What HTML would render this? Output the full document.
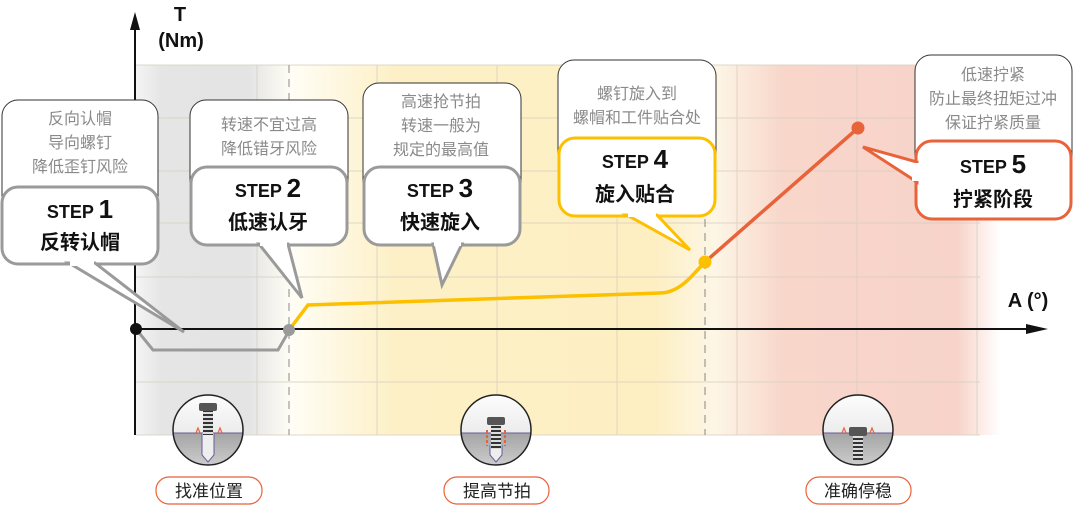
<!DOCTYPE html>
<html><head><meta charset="utf-8"><style>
html,body{margin:0;padding:0;background:#fff;}
svg{display:block;font-family:"Liberation Sans","Noto Sans CJK SC",sans-serif;}
.g{fill:#8a8a8a;font-size:16px;}
.s{fill:#111;font-size:18px;font-weight:bold;}
.n{fill:#111;font-size:26px;font-weight:bold;}
.t{fill:#111;font-size:20px;font-weight:bold;}
.l{fill:#222;font-size:17px;}
</style></head><body>
<svg width="1074" height="505" viewBox="0 0 1074 505">
<defs>
<linearGradient id="bg" x1="136" y1="0" x2="1000" y2="0" gradientUnits="userSpaceOnUse">
<stop offset="0" stop-color="#f4f4f4"/>
<stop offset="0.03" stop-color="#e5e5e5"/>
<stop offset="0.13" stop-color="#e4e4e4"/>
<stop offset="0.18" stop-color="#fffdf5"/>
<stop offset="0.3" stop-color="#fdf0c6"/>
<stop offset="0.6" stop-color="#fdefc2"/>
<stop offset="0.67" stop-color="#fdf6e6"/>
<stop offset="0.75" stop-color="#f8d6ca"/>
<stop offset="0.95" stop-color="#f7d3c9"/>
<stop offset="1" stop-color="#ffffff"/>
</linearGradient>
<linearGradient id="up" x1="0" y1="0" x2="0" y2="1"><stop offset="0" stop-color="#fff"/><stop offset="1" stop-color="#ececec"/></linearGradient>
<linearGradient id="dn" x1="0" y1="0" x2="0" y2="1"><stop offset="0" stop-color="#a4a4a4"/><stop offset="1" stop-color="#d6d6d6"/></linearGradient>
<pattern id="thr" width="4" height="4" patternUnits="userSpaceOnUse"><rect width="4" height="4" fill="#ddd"/><rect y="2" width="4" height="2" fill="#333"/></pattern>
</defs>
<rect x="136" y="65" width="864" height="370" fill="url(#bg)"/>
<g stroke="#d8cfc0" stroke-width="1" opacity="0.8">
<line x1="136" y1="65" x2="980" y2="65"/><line x1="136" y1="118" x2="980" y2="118"/><line x1="136" y1="171" x2="980" y2="171"/><line x1="136" y1="223" x2="980" y2="223"/><line x1="136" y1="277" x2="980" y2="277"/><line x1="136" y1="382" x2="980" y2="382"/><line x1="136" y1="435" x2="980" y2="435"/>
<line x1="257" y1="65" x2="257" y2="435"/><line x1="377" y1="65" x2="377" y2="435"/><line x1="497" y1="65" x2="497" y2="435"/><line x1="617" y1="65" x2="617" y2="435"/><line x1="737" y1="65" x2="737" y2="435"/><line x1="857" y1="65" x2="857" y2="435"/><line x1="977" y1="65" x2="977" y2="435"/>
</g>
<line x1="289" y1="65" x2="289" y2="435" stroke="#888" stroke-dasharray="8,6"/>
<line x1="705" y1="65" x2="705" y2="435" stroke="#888" stroke-dasharray="8,6"/>
<line x1="135" y1="25" x2="135" y2="435" stroke="#111" stroke-width="2"/>
<polygon points="135,12 130,30 140,30" fill="#111"/>
<line x1="136" y1="329" x2="1030" y2="329" stroke="#111" stroke-width="2"/>
<polygon points="1048,329 1026,324 1026,334" fill="#111"/>
<text x="180" y="21" class="t" text-anchor="middle" font-size="21">T</text>
<text x="181" y="47" class="t" text-anchor="middle" font-size="21">(Nm)</text>
<text x="1028" y="307" class="t" text-anchor="middle" font-size="21">A (°)</text>
<polyline points="136,329 153,350 278,350 289,331" fill="none" stroke="#9a9a9a" stroke-width="3"/>
<path d="M289,330 L308,305 L660,293 Q675,293 690,278 L705,262" fill="none" stroke="#fcc000" stroke-width="3.5"/>
<line x1="705" y1="262" x2="858" y2="128" stroke="#e8623a" stroke-width="3.5"/>
<circle cx="136" cy="329" r="6" fill="#111"/>
<circle cx="289" cy="330" r="6" fill="#9a9a9a"/>
<circle cx="705" cy="262" r="6.5" fill="#fcc000"/>
<circle cx="858" cy="128" r="6.5" fill="#e8623a"/>
<rect x="2" y="100" width="156" height="120" rx="16" fill="#fff" stroke="#333" stroke-width="1"/>
<text class="g" text-anchor="middle"><tspan x="80" y="124">反向认帽</tspan><tspan x="80" y="148">导向螺钉</tspan><tspan x="80" y="172">降低歪钉风险</tspan></text>
<rect x="2" y="187" width="156" height="77" rx="16" fill="#fff" stroke="#9a9a9a" stroke-width="3"/>
<polygon points="69,263 95,263 184,332" fill="#fff" stroke="#9a9a9a" stroke-width="3"/>
<rect x="70" y="258" width="24" height="8" fill="#fff"/>
<text x="80" y="218" text-anchor="middle"><tspan class="s">STEP </tspan><tspan class="n">1</tspan></text>
<text x="80" y="249" class="t" text-anchor="middle">反转认帽</text>
<rect x="190" y="100" width="158" height="120" rx="16" fill="#fff" stroke="#333" stroke-width="1"/>
<text class="g" text-anchor="middle"><tspan x="269" y="130">转速不宜过高</tspan><tspan x="269" y="154">降低错牙风险</tspan></text>
<rect x="191" y="167" width="156" height="78" rx="16" fill="#fff" stroke="#9a9a9a" stroke-width="3"/>
<polygon points="259,244 288,244 302,298" fill="#fff" stroke="#9a9a9a" stroke-width="3"/>
<rect x="260" y="238" width="27" height="8" fill="#fff"/>
<text x="268" y="197" text-anchor="middle"><tspan class="s">STEP </tspan><tspan class="n">2</tspan></text>
<text x="268" y="229" class="t" text-anchor="middle">低速认牙</text>
<rect x="363" y="83" width="158" height="130" rx="16" fill="#fff" stroke="#333" stroke-width="1"/>
<text class="g" text-anchor="middle"><tspan x="441" y="107">高速抢节拍</tspan><tspan x="441" y="131">转速一般为</tspan><tspan x="441" y="155">规定的最高值</tspan></text>
<rect x="364" y="167" width="156" height="78" rx="16" fill="#fff" stroke="#9a9a9a" stroke-width="3"/>
<polygon points="433,244 462,244 442,285" fill="#fff" stroke="#9a9a9a" stroke-width="3"/>
<rect x="434" y="238" width="27" height="8" fill="#fff"/>
<text x="440" y="197" text-anchor="middle"><tspan class="s">STEP </tspan><tspan class="n">3</tspan></text>
<text x="440" y="229" class="t" text-anchor="middle">快速旋入</text>
<rect x="558" y="60" width="158" height="110" rx="16" fill="#fff" stroke="#333" stroke-width="1"/>
<text class="g" text-anchor="middle"><tspan x="637" y="99">螺钉旋入到</tspan><tspan x="637" y="123">螺帽和工件贴合处</tspan></text>
<rect x="559" y="138" width="156" height="78" rx="16" fill="#fff" stroke="#fcc000" stroke-width="3"/>
<polygon points="627,215 657,215 690,250" fill="#fff" stroke="#fcc000" stroke-width="3"/>
<rect x="628" y="209" width="28" height="8" fill="#fff"/>
<text x="635" y="168" text-anchor="middle"><tspan class="s">STEP </tspan><tspan class="n">4</tspan></text>
<text x="635" y="201" class="t" text-anchor="middle">旋入贴合</text>
<rect x="915" y="55" width="157" height="120" rx="16" fill="#fff" stroke="#333" stroke-width="1"/>
<text class="g" text-anchor="middle"><tspan x="993" y="80">低速拧紧</tspan><tspan x="993" y="104">防止最终扭矩过冲</tspan><tspan x="993" y="128">保证拧紧质量</tspan></text>
<rect x="916" y="141" width="155" height="78" rx="16" fill="#fff" stroke="#e8623a" stroke-width="3"/>
<polygon points="917,162 917,182 863,147" fill="#fff" stroke="#e8623a" stroke-width="3"/>
<rect x="912" y="163" width="8" height="18" fill="#fff"/>
<text x="993" y="173" text-anchor="middle"><tspan class="s">STEP </tspan><tspan class="n">5</tspan></text>
<text x="993" y="206" class="t" text-anchor="middle">拧紧阶段</text>
<g>
<clipPath id="c1"><circle cx="208" cy="430" r="35"/></clipPath>
<g clip-path="url(#c1)"><rect x="170" y="390" width="80" height="43" fill="url(#up)"/><rect x="170" y="433" width="80" height="40" fill="url(#dn)"/></g>
<line x1="173" y1="433" x2="243" y2="433" stroke="#6a5a9a"/>
<path d="M202,433 V455 L208,462 L214,455 V433" fill="#eee" stroke="#6a5a9a"/>
<rect x="203" y="411" width="10" height="24" fill="url(#thr)"/>
<rect x="199" y="403" width="18" height="8" rx="2" fill="#555"/>
<path d="M196,433 l2,-5 l2,5 M218,433 l2,-5 l2,5" fill="none" stroke="#e8623a" stroke-width="1.2"/>
<circle cx="208" cy="430" r="35" fill="none" stroke="#222" stroke-width="1.5"/>
</g>
<g>
<clipPath id="c2"><circle cx="496" cy="430" r="35"/></clipPath>
<g clip-path="url(#c2)"><rect x="458" y="390" width="80" height="43" fill="url(#up)"/><rect x="458" y="433" width="80" height="40" fill="url(#dn)"/></g>
<line x1="461" y1="433" x2="531" y2="433" stroke="#6a5a9a"/>
<path d="M490,445 V455 L496,462 L502,455 V445" fill="#eee" stroke="#6a5a9a"/>
<rect x="491" y="425" width="10" height="24" fill="url(#thr)"/>
<rect x="487" y="417" width="18" height="8" rx="2" fill="#555"/>
<line x1="487" y1="430" x2="487" y2="446" stroke="#e8623a" stroke-width="2" stroke-dasharray="3,2"/>
<line x1="505" y1="430" x2="505" y2="446" stroke="#e8623a" stroke-width="2" stroke-dasharray="3,2"/>
<circle cx="496" cy="430" r="35" fill="none" stroke="#222" stroke-width="1.5"/>
</g>
<g>
<clipPath id="c3"><circle cx="858" cy="430" r="35"/></clipPath>
<g clip-path="url(#c3)"><rect x="820" y="390" width="80" height="43" fill="url(#up)"/><rect x="820" y="433" width="80" height="40" fill="url(#dn)"/></g>
<line x1="823" y1="433" x2="893" y2="433" stroke="#6a5a9a"/>
<rect x="853" y="436" width="10" height="24" fill="url(#thr)"/>
<rect x="849" y="427" width="18" height="9" rx="2" fill="#555"/>
<path d="M842,433 l2,-5 l2,5 M870,433 l2,-5 l2,5" fill="none" stroke="#e8623a" stroke-width="1.2"/>
<circle cx="858" cy="430" r="35" fill="none" stroke="#222" stroke-width="1.5"/>
</g>
<g fill="#fff" stroke="#e8623a" stroke-width="1.2">
<rect x="156" y="477" width="106" height="27" rx="13"/>
<rect x="444" y="477" width="105" height="27" rx="13"/>
<rect x="806" y="477" width="105" height="27" rx="13"/>
</g>
<text x="209" y="497" class="l" text-anchor="middle">找准位置</text>
<text x="497" y="497" class="l" text-anchor="middle">提高节拍</text>
<text x="858" y="497" class="l" text-anchor="middle">准确停稳</text>
</svg>
</body></html>
